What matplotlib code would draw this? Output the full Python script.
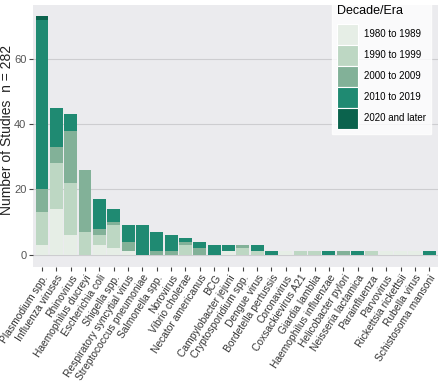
import matplotlib
matplotlib.use("Agg")
import matplotlib.pyplot as plt
from matplotlib.patches import Patch
import numpy as np

plt.rcParams['font.family'] = ['Liberation Sans', 'DejaVu Sans']

categories = ["Plasmodium spp.", "Influenza viruses", "Rhinovirus", "Haemophilus ducreyi",
              "Escherichia coli", "Shigella spp.", "Respiratory syncytial virus",
              "Streptococcus pneumoniae", "Salmonella spp.", "Norovirus", "Vibrio cholerae",
              "Necator americanus", "BCG", "Campylobacter jejuni", "Cryptosporidium spp.",
              "Dengue virus", "Bordetella pertussis", "Coronavirus", "Coxsackievirus A21",
              "Giardia lamblia", "Haemophilus influenzae", "Helicobacter pylori",
              "Neisseria lactamica", "Parainfluenza", "Parvovirus", "Rickettsia rickettsii",
              "Rubella virus", "Schistosoma mansoni"]

eras = ["1980 to 1989", "1990 to 1999", "2000 to 2009", "2010 to 2019", "2020 and later"]

s1980 = [3, 14, 6, 0, 3, 2, 1, 0, 0, 0, 0, 0, 0, 1, 0, 0, 0, 1, 0, 0, 0, 0, 0, 0, 1, 1, 1, 0]
s1990 = [10, 14, 16, 7, 3, 7, 0, 0, 0, 0, 3, 0, 0, 0, 2, 1, 0, 0, 1, 1, 0, 0, 0, 1, 0, 0, 0, 0]
s2000 = [7, 5, 16, 19, 2, 1, 3, 0, 1, 1, 1, 2, 0, 0, 1, 0, 0, 0, 0, 0, 0, 1, 0, 0, 0, 0, 0, 0]
s2010 = [52, 12, 5, 0, 9, 4, 5, 9, 6, 5, 1, 2, 3, 2, 0, 2, 1, 0, 0, 0, 1, 0, 1, 0, 0, 0, 0, 1]
s2020 = [1, 0, 0, 0, 0, 0, 0, 0, 0, 0, 0, 0, 0, 0, 0, 0, 0, 0, 0, 0, 0, 0, 0, 0, 0, 0, 0, 0]

colors = ["#e6eee6", "#bdd7c3", "#82b198", "#1f8a72", "#0b634d"]

series = [s1980, s1990, s2000, s2010, s2020]

fig = plt.figure(figsize=(4.45, 3.82), dpi=100)
ax = fig.add_axes([0.075, 0.302, 0.909, 0.686])
ax.set_facecolor("#ebebee")

x = np.arange(len(categories))
bottom = np.zeros(len(categories))
for vals, col, lab in zip(series, colors, eras):
    v = np.array(vals, dtype=float)
    ax.bar(x, v, width=0.9, bottom=bottom, color=col, label=lab, linewidth=0, zorder=3)
    bottom += v

total = int(bottom.sum())

ax.set_xlim(-0.6, len(categories) - 0.4)
ax.set_ylim(-3.65, 76.65)
ax.set_yticks([0, 20, 40, 60])
ax.grid(axis='y', color="#cdcdd0", linewidth=0.8, zorder=0)
ax.set_axisbelow(True)
for sp in ax.spines.values():
    sp.set_visible(False)

ax.set_xticks(x)
ax.set_xticklabels(categories, rotation=57, ha='right', va='top',
                   rotation_mode='anchor', fontsize=7.4, color="#333333")
ax.tick_params(axis='x', length=3, width=0.8, color="#444444", pad=1.5)
ax.tick_params(axis='y', length=3, width=0.8, color="#444444", labelsize=8,
               labelcolor="#555555", pad=2)
ax.set_ylabel(f"Number of Studies  n = {total}", fontsize=10, color="#222222")
ax.yaxis.set_label_coords(-0.047, 0.52)

handles = [Patch(facecolor=c, edgecolor='white', linewidth=0.8) for c in colors]
leg = ax.legend(handles, eras, title="Decade/Era", loc='upper left',
                bbox_to_anchor=(0.738, 1.017), frameon=True, fontsize=7,
                title_fontsize=9, handlelength=2.16, handleheight=2.95,
                labelspacing=0.0, handletextpad=0.62, borderpad=0.5,
                fancybox=False, borderaxespad=0.0)
leg.get_frame().set_facecolor('white')
leg.get_frame().set_edgecolor('white')
leg._legend_box.align = "left"
leg._legend_box.sep = 5

fig.savefig("out.png", dpi=100)
